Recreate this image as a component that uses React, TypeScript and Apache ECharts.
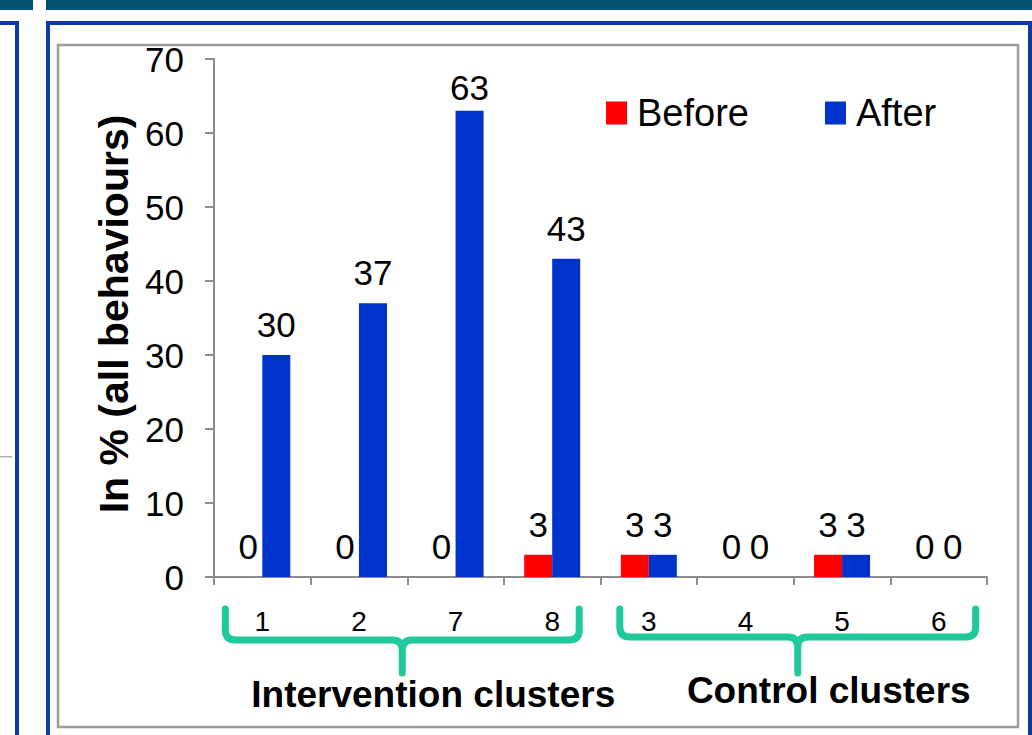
import React, { useEffect, useRef } from "react";
import * as echarts from "echarts";

const categories = ["1", "2", "7", "8", "3", "4", "5", "6"];
const beforeValues = [0, 0, 0, 3, 3, 0, 3, 0];
const afterValues = [30, 37, 63, 43, 3, 0, 3, 0];
const seriesNames = ["Before", "After"];
const yAxisTitle = "In % (all behaviours)";
const yMin = 0;
const yMax = 70;
const yInterval = 10;
const groupNames = ["Intervention clusters", "Control clusters"];
const groupFrom = [0, 4];
const groupTo = [3, 7];

const FONT = "Liberation Sans, Arial, sans-serif";
const RED = "#ff0000";
const BLUE = "#0033cc";
const GREEN = "#1ec99b";
const AXIS = "#8c8c8c";

export default function App() {
  const ref = useRef<HTMLDivElement>(null);
  useEffect(() => {
    document.body.style.margin = "0";
    const chart = echarts.init(ref.current!, null, { renderer: "svg" });
    const labelStyle = { show: true, position: "top", distance: 13, fontSize: 35, color: "#000", fontFamily: FONT };
    // the tallest label sits closer to its bar (it is squeezed under the plot top)
    const afterData = afterValues.map((v) => (v >= yMax - 10 ? { value: v, label: { distance: 6 } } : v));
    const base: any = {
      animation: false,
      backgroundColor: "#ffffff",
      grid: { left: 214, right: 45, top: 59, bottom: 158, containLabel: false },
      legend: {
        data: seriesNames,
        left: 601,
        top: 89,
        icon: "rect",
        itemWidth: 21,
        itemHeight: 23,
        itemGap: 76,
        textStyle: { fontSize: 38, color: "#000", fontFamily: FONT, padding: [0, 0, 0, 5] },
      },
      xAxis: {
        type: "category",
        data: categories,
        axisLine: { lineStyle: { color: AXIS, width: 2 } },
        axisTick: { show: true, length: 8, lineStyle: { color: AXIS, width: 2 } },
        axisLabel: { fontSize: 28, color: "#000", margin: 30, fontFamily: FONT },
      },
      yAxis: {
        type: "value",
        min: yMin,
        max: yMax,
        interval: yInterval,
        splitLine: { show: false },
        axisLine: { show: true, lineStyle: { color: AXIS, width: 2 } },
        axisTick: { show: true, length: 9, lineStyle: { color: AXIS, width: 2 } },
        axisLabel: { fontSize: 35, color: "#000", margin: 30, fontFamily: FONT },
        name: yAxisTitle,
        nameLocation: "middle",
        nameGap: 78,
        nameTextStyle: { fontSize: 41, fontWeight: "bold", color: "#000", fontFamily: FONT, padding: [0, 0, 0, 8] },
      },
      series: [
        {
          name: seriesNames[0],
          type: "bar",
          data: beforeValues,
          barWidth: 28,
          barGap: "0%",
          itemStyle: { color: RED },
          label: labelStyle,
        },
        {
          name: seriesNames[1],
          type: "bar",
          data: afterData,
          barWidth: 28,
          barGap: "0%",
          itemStyle: { color: BLUE },
          label: labelStyle,
        },
      ],
    };
    chart.setOption(base);

    const cx = (i: number) => chart.convertToPixel({ xAxisIndex: 0 }, categories[i]) as number;
    const y0 = chart.convertToPixel({ yAxisIndex: 0 }, 0) as number;
    const r = 10;
    const graphics: any[] = [
      // page frame decorations
      { type: "rect", z: 0, shape: { x: 0, y: 0, width: 33, height: 10 }, style: { fill: "#005170" } },
      { type: "rect", z: 0, shape: { x: 46, y: 0, width: 986, height: 10 }, style: { fill: "#005170" } },
      { type: "rect", z: 0, shape: { x: 0, y: 21, width: 19, height: 4 }, style: { fill: "#0b3ba3" } },
      { type: "rect", z: 0, shape: { x: 15, y: 21, width: 4, height: 714 }, style: { fill: "#0b3ba3" } },
      { type: "rect", z: 0, shape: { x: 0, y: 456, width: 12, height: 1.5 }, style: { fill: "#b0b0b0" } },
      { type: "rect", z: 0, shape: { x: 46, y: 21, width: 986, height: 4 }, style: { fill: "#0b3ba3" } },
      { type: "rect", z: 0, shape: { x: 46, y: 21, width: 4, height: 714 }, style: { fill: "#0b3ba3" } },
      { type: "rect", z: 0, shape: { x: 1028, y: 21, width: 4, height: 714 }, style: { fill: "#0b3ba3" } },
      {
        type: "rect",
        z: 0,
        shape: { x: 58, y: 45, width: 960, height: 682 },
        style: { fill: "none", stroke: "#9c9c9c", lineWidth: 2.5 },
      },
    ];
    const insetL = [37, 29];
    const insetR = [27, 37];
    const baseY = [63, 60];
    groupNames.forEach((name, g) => {
      const xl = cx(groupFrom[g]) - insetL[g];
      const xr = cx(groupTo[g]) + insetR[g];
      const xm = (xl + xr) / 2;
      const yt = y0 + 32;
      const yb = y0 + baseY[g];
      const yn = y0 + 96;
      const d =
        `M ${xl} ${yt} L ${xl} ${yb - r} Q ${xl} ${yb} ${xl + r} ${yb} L ${xm - r} ${yb} Q ${xm} ${yb} ${xm} ${yb + r} L ${xm} ${yn} ` +
        `M ${xm} ${yb + r} Q ${xm} ${yb} ${xm + r} ${yb} L ${xr - r} ${yb} Q ${xr} ${yb} ${xr} ${yb - r} L ${xr} ${yt}`;
      const shapeName = "brace" + g;
      echarts.graphic.registerShape(shapeName, (echarts.graphic as any).extendPath(d, {}));
      graphics.push({
        type: shapeName,
        x: 0,
        y: 0,
        z: 10,
        style: { fill: "none", stroke: GREEN, lineWidth: 7, lineCap: "round", lineJoin: "round" },
      });
      graphics.push({
        type: "text",
        z: 10,
        x: xm + 31,
        y: y0 + 117 - g * 4,
        style: {
          text: name,
          fontSize: 37,
          fontWeight: "bold",
          fontFamily: FONT,
          fill: "#000",
          textAlign: "center",
          textVerticalAlign: "middle",
        },
      });
    });
    chart.setOption({ graphic: graphics });
    return () => chart.dispose();
  }, []);
  return <div ref={ref} style={{ width: 1032, height: 735 }} />;
}
